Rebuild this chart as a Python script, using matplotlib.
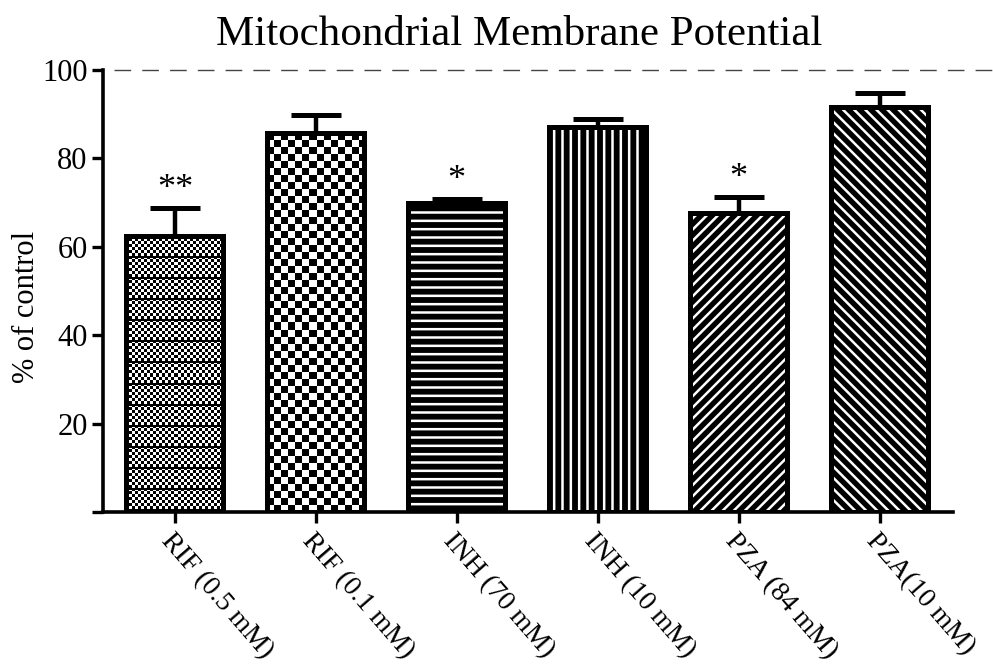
import numpy as np
import matplotlib.pyplot as plt

labels = ['RIF (0.5 mM)', 'RIF (0.1 mM)', 'INH (70 mM)', 'INH (10 mM)', 'PZA (84 mM)', 'PZA(10 mM)']
means = [62.5, 85.7, 69.8, 87.2, 67.6, 91.7]
errs = [6.3, 4.2, 1.0, 1.8, 3.6, 3.1]
stars = ['**', '', '*', '', '*', '']
hatches = [None, None, '--', '||', '///', '\\\\\\']

plt.rcParams['font.family'] = ['Liberation Serif', 'DejaVu Serif']
plt.rcParams['hatch.linewidth'] = 1.8

fig = plt.figure(figsize=(9.93, 6.69), dpi=100)
ax = fig.add_axes([0.1037, 0.2347, 0.856, 0.6607])

x = np.arange(len(labels))
w = 0.69
px_x = 140.6  # pixels per x unit
px_y = 4.42   # pixels per y unit


def checker(h, wd, cell, lines=0):
    i = np.arange(h)[:, None]
    j = np.arange(wd)[None, :]
    arr = ((i // cell + j // cell) % 2).astype(float)
    if lines:
        arr[(i[:, 0] % lines) < 2, :] = 0
    return arr


ax.errorbar(x, means, yerr=[np.zeros(len(x)), errs], fmt='none', ecolor='black',
            elinewidth=3.2, capsize=18, capthick=3.6, zorder=1)

for i in range(len(x)):
    if hatches[i] is None:
        p = ax.bar(x[i], means[i], w, facecolor='none', edgecolor='black',
                   linewidth=3.6, zorder=3)[0]
        hp = int(p.get_height() * px_y)
        wp = int(p.get_width() * px_x)
        if i == 0:
            img = checker(hp, wp, 3, lines=21)
        else:
            img = checker(hp, wp, 7)
        ax.imshow(img, cmap='gray', vmin=0, vmax=1, interpolation='nearest', aspect='auto',
                  extent=[p.get_x(), p.get_x() + p.get_width(), 0, p.get_height()],
                  clip_path=p, zorder=2)
    else:
        ax.bar(x[i], means[i], w, facecolor='black', edgecolor='white', hatch=hatches[i],
               linewidth=0, zorder=2)
        ax.bar(x[i], means[i], w, fill=False, edgecolor='black', linewidth=3.6, zorder=3)
    if stars[i]:
        ax.text(x[i], means[i] + errs[i] + 4.2, stars[i], ha='center', va='center',
                fontsize=26, zorder=4)

ax.plot([-0.43, 5.8], [100, 100], color='#444444', lw=1.0, dashes=(12, 8), clip_on=False)

ax.set_xlim(-0.51, 5.52)
ax.set_ylim(0, 100)
ax.set_yticks([0, 20, 40, 60, 80, 100])
ax.set_yticklabels(['', '20', '40', '60', '80', '100'], fontsize=22)
ax.set_xticks(x)
ax.set_xticklabels(labels, fontsize=20, rotation=-49, ha='left', va='top',
                   rotation_mode='anchor')
ax.tick_params(axis='both', length=8, width=2.4, direction='out', pad=3)
ax.tick_params(axis='x', pad=4)

for s in ['top', 'right']:
    ax.spines[s].set_visible(False)
for s in ['left', 'bottom']:
    ax.spines[s].set_linewidth(2.6)

fig.text(27 / 993, 1 - 307 / 669, '% of control', rotation=90, ha='center', va='center',
         fontsize=22)
fig.text(519 / 993, 1 - 45 / 669, 'Mitochondrial Membrane Potential', ha='center',
         va='baseline', fontsize=31)

fig.savefig('out.png', dpi=100)
